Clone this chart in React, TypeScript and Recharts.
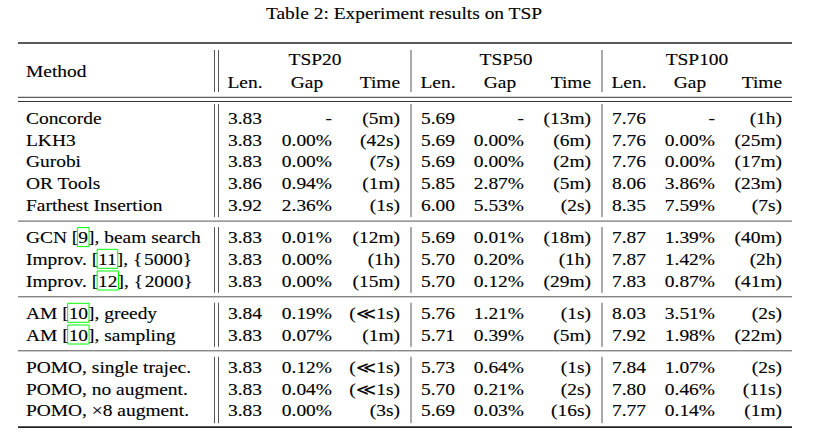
import React, { useLayoutEffect, useRef, useState } from 'react';
import { ScatterChart, Scatter, XAxis, YAxis, ReferenceLine } from 'recharts';

const W = 815;
const H = 442;

const title = 'Table 2: Experiment results on TSP';
const groupLabels = ['TSP20', 'TSP50', 'TSP100'];
const subLabels = ['Len.', 'Gap', 'Time'];

const methods = [
  'Concorde', 'LKH3', 'Gurobi', 'OR Tools', 'Farthest Insertion',
  'GCN [9], beam search', 'Improv. [11], {\u200a5000}', 'Improv. [12], {\u200a2000}',
  'AM [10], greedy', 'AM [10], sampling',
  'POMO, single trajec.', 'POMO, no augment.', 'POMO, \u00d78 augment.',
];
const sectionOf = [0, 0, 0, 0, 0, 1, 1, 1, 2, 2, 3, 3, 3];

const len20 = ['3.83', '3.83', '3.83', '3.86', '3.92', '3.83', '3.83', '3.83', '3.84', '3.83', '3.83', '3.83', '3.83'];
const gap20 = ['-', '0.00%', '0.00%', '0.94%', '2.36%', '0.01%', '0.00%', '0.00%', '0.19%', '0.07%', '0.12%', '0.04%', '0.00%'];
const time20 = ['(5m)', '(42s)', '(7s)', '(1m)', '(1s)', '(12m)', '(1h)', '(15m)', '(\u226a1s)', '(1m)', '(\u226a1s)', '(\u226a1s)', '(3s)'];

const len50 = ['5.69', '5.69', '5.69', '5.85', '6.00', '5.69', '5.70', '5.70', '5.76', '5.71', '5.73', '5.70', '5.69'];
const gap50 = ['-', '0.00%', '0.00%', '2.87%', '5.53%', '0.01%', '0.20%', '0.12%', '1.21%', '0.39%', '0.64%', '0.21%', '0.03%'];
const time50 = ['(13m)', '(6m)', '(2m)', '(5m)', '(2s)', '(18m)', '(1h)', '(29m)', '(1s)', '(5m)', '(1s)', '(2s)', '(16s)'];

const len100 = ['7.76', '7.76', '7.76', '8.06', '8.35', '7.87', '7.87', '7.83', '8.03', '7.92', '7.84', '7.80', '7.77'];
const gap100 = ['-', '0.00%', '0.00%', '3.86%', '7.59%', '1.39%', '1.42%', '0.87%', '3.51%', '1.98%', '1.07%', '0.46%', '0.14%'];
const time100 = ['(1h)', '(25m)', '(17m)', '(23m)', '(7s)', '(40m)', '(2h)', '(41m)', '(2s)', '(22m)', '(2s)', '(11s)', '(1m)'];

// layout
const FONT = '"Liberation Serif", "Times New Roman", serif';
const FS = 16.2;
const STRETCH = 1.2; // the scan is wider than tall
const methodX = 26;
const groupCols = [
  { head: 315, len: 245, gap: 332, gapHead: 307, time: 400 },
  { head: 506, len: 438, gap: 524, gapHead: 500, time: 591 },
  { head: 697, len: 629, gap: 715, gapHead: 690, time: 782 },
];
const firstBase = 124;
const pitch = 21.7;
const sectionGap = 10.6;
const ruleLeft = 18;
const ruleRight = 792;
const vLines = [214.5, 218.5, 411, 602];

const baseline = (i: number) => firstBase + i * pitch + sectionOf[i] * sectionGap;

type Cell = { x: number; y: number; text: string; anchor: 'start' | 'middle' | 'end' };

const cells: Cell[] = [];
cells.push({ x: 404, y: 19, text: title, anchor: 'middle' });
cells.push({ x: methodX, y: 76.5, text: 'Method', anchor: 'start' });
groupLabels.forEach((g, k) => {
  const c = groupCols[k];
  cells.push({ x: c.head, y: 65, text: g, anchor: 'middle' });
  cells.push({ x: c.len, y: 87.5, text: subLabels[0], anchor: 'middle' });
  cells.push({ x: c.gapHead, y: 87.5, text: subLabels[1], anchor: 'middle' });
  cells.push({ x: c.time, y: 87.5, text: subLabels[2], anchor: 'end' });
});
const groups = [
  [len20, gap20, time20],
  [len50, gap50, time50],
  [len100, gap100, time100],
];
methods.forEach((m, i) => {
  const y = baseline(i);
  cells.push({ x: methodX, y, text: m, anchor: 'start' });
  groups.forEach(([l, g, t], k) => {
    const c = groupCols[k];
    cells.push({ x: c.len, y, text: l[i], anchor: 'middle' });
    cells.push({ x: c.gap, y, text: g[i], anchor: 'end' });
    cells.push({ x: c.time, y, text: t[i], anchor: 'end' });
  });
});

// horizontal rules
const lastOfSection = [4, 7, 9];
const sectionRules = lastOfSection.map((i) => baseline(i) + 10.3);
const bottomRule = baseline(methods.length - 1) + 11;
const bands: [number, number][] = [
  [50, 92],
  [104, sectionRules[0] - 4],
  [sectionRules[0] + 6, sectionRules[1] - 4],
  [sectionRules[1] + 6, sectionRules[2] - 4],
  [sectionRules[2] + 6, bottomRule - 4],
];

const CellText = (props: any) => {
  const { cx, cy, payload } = props;
  const ref = useRef<SVGTextElement>(null);
  const [boxes, setBoxes] = useState<{ x: number; w: number }[]>([]);
  const parts: string[] = String(payload.text).split(/(\[\d+\])/);
  const hasCite = parts.length > 1;

  useLayoutEffect(() => {
    if (!hasCite || !ref.current) return;
    const nodes = ref.current.querySelectorAll('tspan[data-cite]');
    const b: { x: number; w: number }[] = [];
    nodes.forEach((n) => {
      const bb = (n as SVGGraphicsElement).getBBox();
      b.push({ x: bb.x, w: bb.width });
    });
    setBoxes(b);
  }, [payload.text, cx, cy]);

  return (
    <g transform={`translate(${cx},${cy}) scale(${STRETCH},1)`}>
      <text
        ref={ref}
        x={0}
        y={0}
        textAnchor={payload.anchor}
        fontFamily={FONT}
        fontSize={FS}
        fill="#000"
        stroke="#000"
        strokeWidth={0.12}
      >
        {parts.map((p, j) => {
          const mm = p.match(/^\[(\d+)\]$/);
          if (mm) {
            return (
              <React.Fragment key={j}>
                <tspan>[</tspan>
                <tspan data-cite="1">{mm[1]}</tspan>
                <tspan>]</tspan>
              </React.Fragment>
            );
          }
          return <tspan key={j}>{p}</tspan>;
        })}
      </text>
      {boxes.map((b, j) => (
        <rect
          key={j}
          x={b.x - 0.8}
          y={-15.5}
          width={b.w + 1.6}
          height={19}
          fill="none"
          stroke="#00ff00"
          strokeWidth={1}
          vectorEffect="non-scaling-stroke"
        />
      ))}
    </g>
  );
};

export default function App() {
  return (
    <div style={{ position: 'absolute', left: 0, top: 0, width: W, height: H, background: '#fff' }}>
      <ScatterChart width={W} height={H} margin={{ top: 0, right: 0, bottom: 0, left: 0 }}>
        <XAxis type="number" dataKey="x" domain={[0, W]} hide />
        <YAxis type="number" dataKey="y" domain={[0, H]} reversed hide />
        <ReferenceLine
          segment={[{ x: ruleLeft, y: 43 }, { x: ruleRight, y: 43 }]}
          stroke="#222"
          strokeWidth={1.7}
        />
        <ReferenceLine
          segment={[{ x: ruleLeft, y: 97.3 }, { x: ruleRight, y: 97.3 }]}
          stroke="#333"
          strokeWidth={1}
        />
        <ReferenceLine
          segment={[{ x: ruleLeft, y: 101.5 }, { x: ruleRight, y: 101.5 }]}
          stroke="#333"
          strokeWidth={1}
        />
        {sectionRules.map((y, i) => (
          <ReferenceLine
            key={`sr${i}`}
            segment={[{ x: ruleLeft, y }, { x: ruleRight, y }]}
            stroke="#555"
            strokeWidth={1}
          />
        ))}
        <ReferenceLine
          segment={[{ x: ruleLeft, y: bottomRule }, { x: ruleRight, y: bottomRule }]}
          stroke="#222"
          strokeWidth={1.7}
        />
        {bands.map(([y0, y1], bi) =>
          vLines.map((x, vi) => (
            <ReferenceLine
              key={`v${bi}-${vi}`}
              segment={[{ x, y: y0 }, { x, y: y1 }]}
              stroke="#555"
              strokeWidth={1}
            />
          ))
        )}
        <Scatter data={cells} isAnimationActive={false} shape={(p: any) => <CellText {...p} />} />
      </ScatterChart>
    </div>
  );
}
